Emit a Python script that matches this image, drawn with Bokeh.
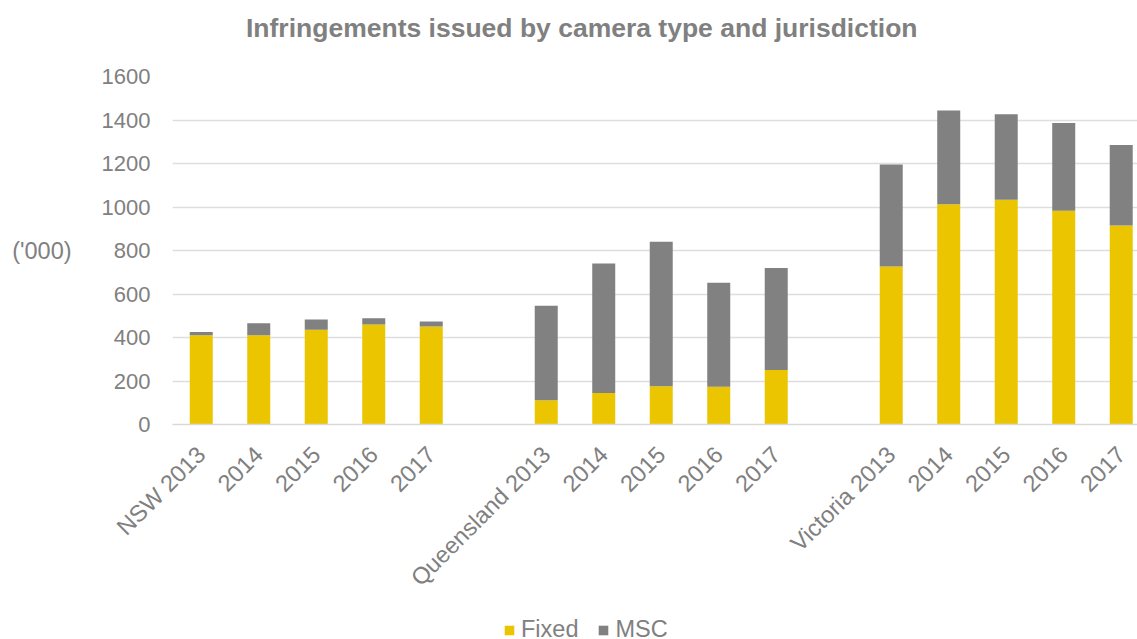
import math
from bokeh.plotting import figure
from bokeh.layouts import column
from bokeh.models import ColumnDataSource, FixedTicker, Range1d, Legend, LegendItem, Div
from bokeh.embed import file_html
from bokeh.resources import INLINE

# ---- data ----
jurisdictions = ["NSW", "Queensland", "Victoria"]
years = ["2013", "2014", "2015", "2016", "2017"]
fixed = [410, 410, 436, 460, 451, 112, 145, 176, 173, 251, 726, 1013, 1033, 983, 915]
msc = [15, 55, 47, 28, 23, 434, 595, 664, 479, 468, 469, 431, 394, 403, 370]
y_ticks = [0, 200, 400, 600, 800, 1000, 1200, 1400, 1600]
series = ["Fixed", "MSC"]
colors = ["#EAC500", "#818181"]

title_text = "Infringements issued by camera type and jurisdiction"
unit_text = "('000)"

FONT = "Liberation Sans"
GRAY = "#808080"
TITLE_H = 50
PLOT_H = 554
LEG_H = 639 - TITLE_H - PLOT_H

# positions: one empty slot between jurisdictions
xs = []
labels = {}
for gi, j in enumerate(jurisdictions):
    for yi, yr in enumerate(years):
        pos = gi * (len(years) + 1) + yi
        xs.append(pos)
        labels[pos] = f"{j} {yr}" if yi == 0 else yr

src = ColumnDataSource(data=dict(x=xs, fixed=fixed, msc=msc))

title = Div(text=(f'<div style="padding-left:246px; padding-top:13px; font-family:\'{FONT}\'; '
                  f'font-size:26.5px; font-weight:bold; color:{GRAY}; line-height:30px; '
                  f'white-space:nowrap;">{title_text}</div>'),
            width=1137, height=TITLE_H, margin=0)

p = figure(width=1137, height=PLOT_H, output_backend="svg", toolbar_location=None,
           x_range=Range1d(-0.5, 16.283), y_range=Range1d(0, 1600),
           min_border_left=172, min_border_right=0, min_border_top=76 - TITLE_H,
           min_border_bottom=PLOT_H - (424 - TITLE_H), margin=0)
p.outline_line_color = None
p.background_fill_color = "white"

rs = p.vbar_stack(["fixed", "msc"], x="x", width=0.4, color=colors, source=src, line_width=0)

# y axis
p.yaxis.ticker = FixedTicker(ticks=y_ticks)
p.yaxis.axis_line_color = None
p.yaxis.major_tick_line_color = None
p.yaxis.minor_tick_line_color = None
p.yaxis.major_tick_out = 0
p.yaxis.major_tick_in = 0
p.yaxis.major_label_standoff = 22
p.yaxis.major_label_text_font = FONT
p.yaxis.major_label_text_font_size = "22px"
p.yaxis.major_label_text_color = GRAY
p.yaxis.axis_label = unit_text
p.yaxis.axis_label_text_font = FONT
p.yaxis.axis_label_text_font_size = "23.5px"
p.yaxis.axis_label_text_font_style = "normal"
p.yaxis.axis_label_text_color = GRAY
p.yaxis.axis_label_standoff = 27
try:
    p.yaxis.axis_label_orientation = "horizontal"
except Exception:
    pass

# x axis
p.xaxis.ticker = FixedTicker(ticks=xs)
p.xaxis.major_label_overrides = labels
p.xaxis.major_label_orientation = math.pi / 4
p.xaxis.axis_line_color = "#d9d9d9"
p.xaxis.axis_line_width = 1.5
p.xaxis.major_tick_line_color = None
p.xaxis.minor_tick_line_color = None
p.xaxis.major_tick_out = 0
p.xaxis.major_tick_in = 0
p.xaxis.major_label_standoff = 26
p.xaxis.major_label_text_font = FONT
p.xaxis.major_label_text_font_size = "23.5px"
p.xaxis.major_label_text_color = GRAY

p.xgrid.grid_line_color = None
p.ygrid.grid_line_color = "#dedede"
p.ygrid.grid_line_width = 1.5

# legend strip below the chart (its bars lie far outside its visible range; only the legend shows)
lf = figure(width=1137, height=LEG_H, output_backend="svg", toolbar_location=None,
            x_axis_type=None, y_axis_type=None,
            x_range=Range1d(1000, 1016.783), y_range=Range1d(50000, 50001),
            min_border_left=0, min_border_right=0, min_border_top=0, min_border_bottom=0,
            margin=0)
lf.outline_line_color = None
lf.xgrid.visible = False
lf.ygrid.visible = False
lrs = lf.vbar_stack(["fixed", "msc"], x="x", width=0.4, color=colors, source=src, line_width=0)
legend = Legend(items=[LegendItem(label=s, renderers=[r]) for s, r in zip(series, lrs)],
                orientation="horizontal", location=(331, -4),
                glyph_width=12, glyph_height=12, label_standoff=6, spacing=19,
                padding=0, margin=0, border_line_color=None, background_fill_alpha=0,
                label_text_font=FONT, label_text_font_size="23.5px", label_text_color=GRAY)
lf.add_layout(legend)

layout = column(title, p, lf, spacing=0)
open("out.html", "w").write(file_html(layout, INLINE))
